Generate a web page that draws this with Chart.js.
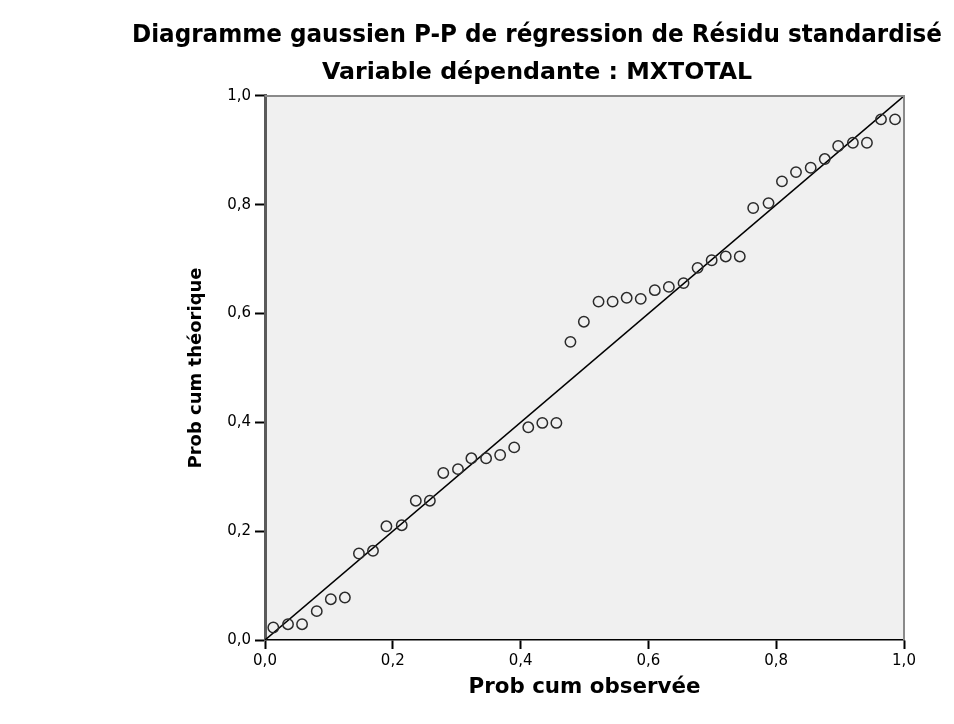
<!DOCTYPE html>
<html>
<head>
<meta charset="utf-8">
<title>Diagramme gaussien P-P</title>
<script src="https://cdn.jsdelivr.net/npm/chart.js@4"></script>
<style>
  body { margin: 0; background: #fff; }
  canvas { display: block; }
</style>
</head>
<body>
<canvas id="ppChart" width="954" height="724"></canvas>
<script>
// observed cumulative probability (x) and expected cumulative probability (y)
const probObserved = [
  0.013, 0.036, 0.058, 0.081, 0.103, 0.125, 0.147, 0.169, 0.190, 0.214,
  0.236, 0.258, 0.279, 0.302, 0.323, 0.346, 0.368, 0.390, 0.412, 0.434,
  0.456, 0.478, 0.499, 0.522, 0.544, 0.566, 0.588, 0.610, 0.632, 0.655,
  0.677, 0.699, 0.721, 0.743, 0.764, 0.788, 0.809, 0.831, 0.854, 0.876,
  0.897, 0.920, 0.942, 0.964, 0.986
];
const probTheoretical = [
  0.023, 0.029, 0.029, 0.053, 0.075, 0.078, 0.159, 0.164, 0.209, 0.211,
  0.256, 0.256, 0.307, 0.314, 0.334, 0.334, 0.340, 0.354, 0.391, 0.399,
  0.399, 0.548, 0.585, 0.622, 0.622, 0.629, 0.627, 0.643, 0.649, 0.656,
  0.684, 0.698, 0.705, 0.705, 0.794, 0.803, 0.843, 0.860, 0.868, 0.884,
  0.908, 0.914, 0.914, 0.957, 0.957
];
const diagonal = [0, 1];
const tickLabels = ['0,0', '0,2', '0,4', '0,6', '0,8', '1,0'];

const fmt = (v) => tickLabels[Math.round(v * 5)] || '';

// grey plot background + top/right frame
const plotFrame = {
  id: 'plotFrame',
  beforeDraw(chart) {
    const { ctx, chartArea: a } = chart;
    ctx.save();
    ctx.fillStyle = '#f0f0f0';
    ctx.fillRect(a.left, a.top, a.right - a.left, a.bottom - a.top);
    ctx.restore();
  },
  afterDraw(chart) {
    const { ctx, chartArea: a } = chart;
    ctx.save();
    ctx.strokeStyle = '#8a8a8a';
    ctx.lineWidth = 2;
    ctx.beginPath();
    ctx.moveTo(a.left, a.top);
    ctx.lineTo(a.right, a.top);
    ctx.lineTo(a.right, a.bottom);
    ctx.stroke();
    ctx.restore();
  }
};

new Chart(document.getElementById('ppChart'), {
  type: 'scatter',
  data: {
    datasets: [
      {
        label: 'Résidu standardisé',
        data: probObserved.map((x, i) => ({ x: x, y: probTheoretical[i] })),
        pointStyle: 'circle',
        pointRadius: 5.2,
        borderWidth: 1.5,
        borderColor: '#2a2a2a',
        backgroundColor: 'rgba(0,0,0,0)'
      },
      {
        type: 'line',
        label: 'Diagonale',
        data: diagonal.map((v) => ({ x: v, y: v })),
        borderColor: '#000',
        borderWidth: 1.5,
        pointRadius: 0,
        fill: false
      }
    ]
  },
  options: {
    responsive: false,
    animation: false,
    layout: { padding: { top: 0, right: 12, bottom: 0, left: 132 } },
    plugins: {
      legend: { display: false },
      tooltip: { enabled: false },
      title: {
        display: true,
        text: 'Diagramme gaussien P-P de régression de Résidu standardisé',
        color: '#000',
        font: { family: 'DejaVu Sans', size: 25, weight: 'bold', lineHeight: 1.2 },
        padding: { top: 20, bottom: 8.3 }
      },
      subtitle: {
        display: true,
        text: 'Variable dépendante : MXTOTAL',
        color: '#000',
        font: { family: 'DejaVu Sans', size: 23.7, weight: 'bold', lineHeight: 1.2 },
        padding: { top: 0, bottom: 9.2 }
      }
    },
    scales: {
      x: {
        type: 'linear',
        min: 0,
        max: 1,
        afterFit: (scale) => { scale.height = 84; },
        ticks: {
          stepSize: 0.2,
          padding: 3,
          color: '#000',
          font: { family: 'DejaVu Sans', size: 15 },
          callback: fmt
        },
        grid: { drawOnChartArea: false, color: '#000', tickLength: 9, tickWidth: 2 },
        border: { display: true, color: '#000', width: 1.5 },
        title: {
          display: true,
          text: 'Prob cum observée',
          color: '#000',
          font: { family: 'DejaVu Sans', size: 21.4, weight: 'bold', lineHeight: 1.2 },
          padding: { top: 0, bottom: 24 }
        }
      },
      y: {
        type: 'linear',
        min: 0,
        max: 1,
        afterFit: (scale) => { scale.width = 133; },
        ticks: {
          stepSize: 0.2,
          padding: 4,
          color: '#000',
          font: { family: 'DejaVu Sans', size: 15 },
          callback: fmt
        },
        grid: { drawOnChartArea: false, color: '#000', tickLength: 10, tickWidth: 2 },
        border: { display: true, color: '#5a5a5a', width: 3 },
        title: {
          display: true,
          text: 'Prob cum théorique',
          color: '#000',
          font: { family: 'DejaVu Sans', size: 18, weight: 'bold', lineHeight: 1.2 },
          padding: { top: 54, bottom: 0 }
        }
      },
      // empty right-hand margin so the plot ends where the reference's does
      yRight: {
        type: 'linear',
        position: 'right',
        min: 0,
        max: 1,
        afterFit: (scale) => { scale.width = 38; },
        ticks: { display: false },
        grid: { display: false },
        border: { display: false }
      }
    }
  },
  plugins: [plotFrame]
});
</script>
</body>
</html>
